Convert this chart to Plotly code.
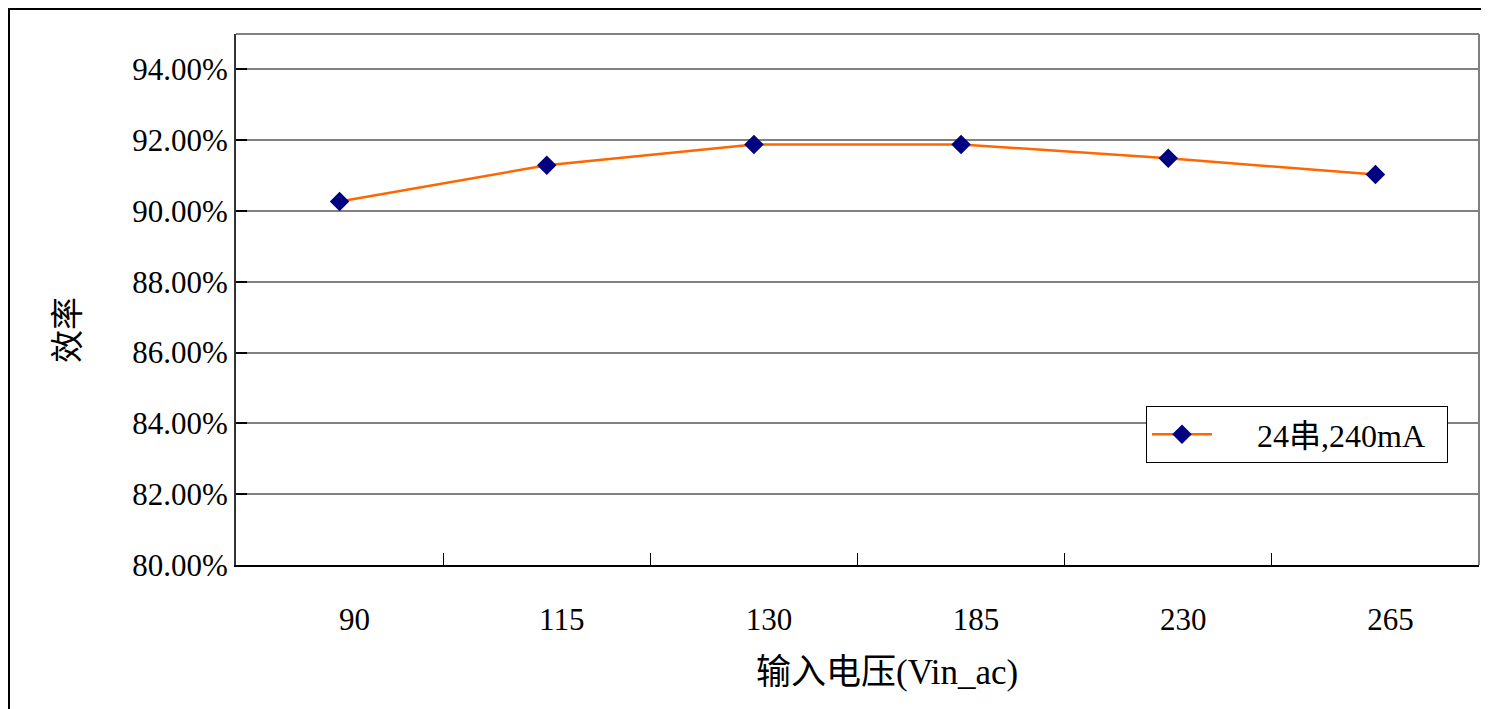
import plotly.graph_objects as go

categories = ["90", "115", "130", "185", "230", "265"]
efficiency = [0.9027, 0.9129, 0.9188, 0.9188, 0.9149, 0.9103]
series_name = "24串,240mA"
x_title = "输入电压(Vin_ac)"
y_title = "效率"

FONT = "Liberation Serif, Noto Sans CJK SC, serif"
# figure is placed with an 8px page margin, so all pixel positions below are figure-relative
W, H = 1481, 701
L, R, T, B = 228, 1471, 26, 557

NB = "\u00a0"
fig = go.Figure()
fig.add_trace(go.Scatter(
    x=categories, y=efficiency, mode="lines+markers",
    name=NB * 5 + series_name + NB * 2,
    line=dict(color="#FF6600", width=2.5),
    marker=dict(symbol="diamond", size=15, color="#000080"),
))

def px(x):
    return (x - L) / (R - L)

def py(y):
    return (B - y) / (B - T)

fig.update_layout(
    width=W, height=H,
    margin=dict(l=L, r=W - R, t=T, b=H - B),
    paper_bgcolor="white", plot_bgcolor="white",
    font=dict(family=FONT, size=31, color="black"),
    showlegend=True,
    legend=dict(
        x=px(1138), y=py(398), xanchor="left", yanchor="top",
        bordercolor="black", borderwidth=1, bgcolor="white",
        font=dict(family=FONT, size=32, color="black"),
        itemwidth=60,
    ),
    xaxis=dict(
        type="category", range=[-0.5, 5.5], showgrid=False, showline=True,
        linecolor="black", linewidth=2,
        ticks="inside", tickson="boundaries", ticklen=12, tickcolor="black", tickwidth=1,
        ticklabelshift=15, ticklabelstandoff=26,
        tickfont=dict(family=FONT, size=31, color="black"),
        zeroline=False,
    ),
    yaxis=dict(
        range=[0.80, 0.95], tickvals=[0.80, 0.82, 0.84, 0.86, 0.88, 0.90, 0.92, 0.94],
        tickformat=".2%", showgrid=True, gridcolor="#808080", gridwidth=1.5,
        showline=True, linecolor="#333333", linewidth=2,
        ticks="inside", ticklen=11, tickcolor="black", tickwidth=1.5,
        tickfont=dict(family=FONT, size=31, color="black"),
        zeroline=False,
    ),
    shapes=[
        dict(type="line", xref="paper", yref="paper", x0=0, x1=1, y0=1, y1=1,
             line=dict(color="#808080", width=2)),
        dict(type="line", xref="paper", yref="paper", x0=1, x1=1, y0=0, y1=1,
             line=dict(color="#808080", width=2)),
        dict(type="line", xref="paper", yref="paper", x0=px(0), x1=px(W), y0=py(1), y1=py(1),
             line=dict(color="black", width=2)),
        dict(type="line", xref="paper", yref="paper", x0=px(1), x1=px(1), y0=py(1), y1=py(H),
             line=dict(color="black", width=2)),
    ],
    annotations=[
        dict(text=x_title, xref="paper", yref="paper", x=px(879), y=py(664),
             showarrow=False, xanchor="center", yanchor="middle",
             font=dict(family=FONT, size=35, color="black")),
        dict(text=y_title, xref="paper", yref="paper", x=px(60), y=py(322),
             showarrow=False, xanchor="center", yanchor="middle", textangle=-90,
             font=dict(family=FONT, size=33, color="black")),
    ],
)

fig.write_html("out.html")
